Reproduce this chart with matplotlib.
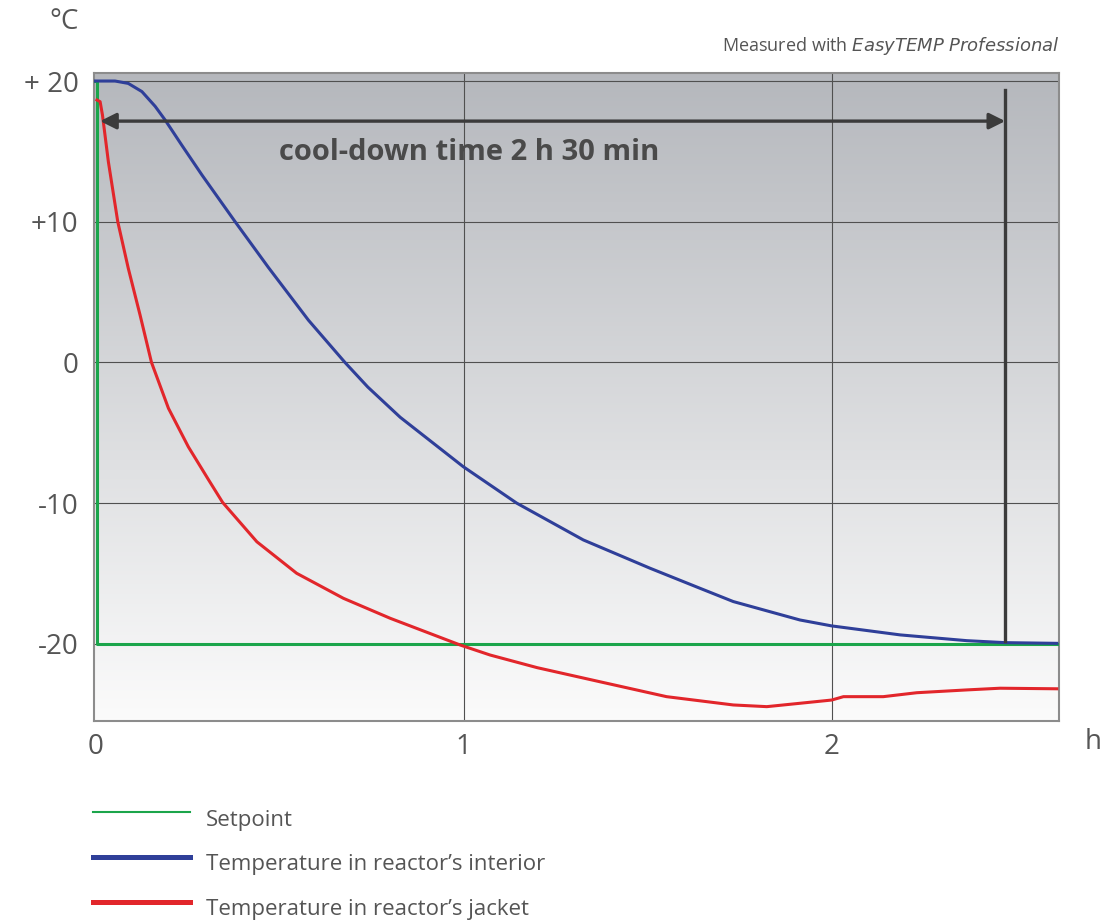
import numpy as np
import matplotlib
matplotlib.use("Agg")
import matplotlib.pyplot as plt
from matplotlib.lines import Line2D

plt.rcParams['font.family'] = ['Open Sans', 'DejaVu Sans']

# hours / degC
setpoint_x = [0.0, 0.006, 0.006, 2.616]
setpoint_y = [20.0, 20.0, -20.0, -20.0]

interior_x = [0.0, 0.054, 0.090, 0.127, 0.163, 0.190, 0.235, 0.290, 0.380, 0.470, 0.579,
              0.678, 0.740, 0.828, 0.999, 1.144, 1.325, 1.506, 1.642, 1.732, 1.913, 1.999,
              2.185, 2.366, 2.469, 2.610]
interior_y = [20.0, 20.0, 19.83, 19.25, 18.2, 17.23, 15.45, 13.32, 10.0, 6.76, 3.0,
              0.0, -1.75, -3.9, -7.41, -10.0, -12.62, -14.63, -16.06, -17.0, -18.31, -18.73,
              -19.37, -19.78, -19.92, -19.97]

jacket_x = [0.005, 0.0136, 0.020, 0.036, 0.0615, 0.090, 0.122, 0.153, 0.199, 0.253, 0.308, 0.346,
            0.439, 0.547, 0.674, 0.801, 0.991, 1.072, 1.2, 1.370, 1.551, 1.732, 1.823, 1.913, 1.999,
            2.031, 2.139, 2.230, 2.366, 2.456, 2.610]
jacket_y = [18.65, 18.53, 17.58, 14.26, 10.0, 6.69, 3.37, 0.0, -3.26, -6.0, -8.35, -9.95,
            -12.75, -14.99, -16.77, -18.19, -20.09, -20.8, -21.7, -22.7, -23.76, -24.35, -24.47, -24.23, -24.0,
            -23.76, -23.76, -23.48, -23.28, -23.16, -23.2]

y_ticks = [20, 10, 0, -10, -20]
y_labels = ["+ 20", "+10", "0", "-10", "-20"]
x_ticks = [0, 1, 2]
x_labels = ["0", "1", "2"]

cooldown_end = 2.47
arrow_level = 17.15

legend_labels = ["Setpoint", "Temperature in reactor\u2019s interior", "Temperature in reactor\u2019s jacket"]

GREEN = '#1ba54b'
BLUE = '#2f3f99'
RED = '#e2262b'
TXT = '#555555'


def main():
    W, H = 1103, 924
    fig = plt.figure(figsize=(W / 100, H / 100), dpi=100)
    ax = fig.add_axes([94 / W, 1 - 721 / H, (1059 - 94) / W, (721 - 73) / H])
    xlim = (-0.003, 2.616)
    ylim = (-25.49, 20.57)

    # background gradient, grey at top fading to white
    grad = np.linspace(0, 1, 256).reshape(-1, 1, 1)
    top = np.array([0.71, 0.72, 0.74])
    bot = np.array([0.985, 0.985, 0.985])
    img = top + (bot - top) * grad * np.ones((1, 1, 3))
    ax.imshow(img, extent=[xlim[0], xlim[1], ylim[0], ylim[1]], origin='upper',
              aspect='auto', zorder=0)
    ax.set_xlim(*xlim)
    ax.set_ylim(*ylim)

    for y in y_ticks:
        ax.axhline(y, color='#505050', lw=0.8, zorder=1)
    for x in x_ticks[1:]:
        ax.axvline(x, color='#505050', lw=0.8, zorder=1)

    ax.plot(setpoint_x, setpoint_y, color=GREEN, lw=2.2, zorder=3)
    ax.plot(jacket_x, jacket_y, color=RED, lw=2.2, zorder=4, solid_joinstyle='round')
    ax.plot(interior_x, interior_y, color=BLUE, lw=2.2, zorder=4, solid_joinstyle='round')

    # cool-down marker
    ax.annotate('', xy=(0.0136, arrow_level), xytext=(cooldown_end, arrow_level),
                arrowprops=dict(arrowstyle='<|-|>', lw=2.4, color='#3b3b3b',
                                mutation_scale=24, shrinkA=0, shrinkB=0), zorder=5)
    ax.plot([cooldown_end, cooldown_end], [19.36, -19.8], color='#3b3b3b', lw=2.4, zorder=5)
    ax.text(1.015, 14.95, "cool-down time 2 h 30 min", fontsize=21, fontweight='bold',
            color='#4a4a4a', ha='center', va='center', zorder=6)

    for s in ax.spines.values():
        s.set_color('#8c8c8c')
        s.set_linewidth(1.5)

    ax.set_yticks(y_ticks)
    ax.set_yticklabels(y_labels)
    ax.set_xticks(x_ticks)
    ax.set_xticklabels(x_labels)
    ax.tick_params(length=0, labelsize=20, labelcolor=TXT)
    ax.tick_params(axis='y', pad=11)
    ax.tick_params(axis='x', pad=9)

    fig.text(64 / W, 1 - 22 / H, "\u00b0C", fontsize=20, color=TXT, ha='center', va='center')
    fig.text(1093 / W, 1 - 742 / H, "h", fontsize=20, color=TXT, ha='center', va='center')

    fig.text(1060 / W, 1 - 46 / H, "Measured with $\\it{EasyTEMP\\ Professional}$",
             fontsize=13, color=TXT, ha='right', va='center')

    # legend
    rows = [(812, 826, GREEN, 1.5), (857, 870, BLUE, 3.6), (902, 915, RED, 3.6)]
    for (ly, ty, c, lw), lab in zip(rows, legend_labels):
        fig.add_artist(Line2D([93 / W, 190 / W], [1 - ly / H, 1 - ly / H], color=c, lw=lw))
        fig.text(206 / W, 1 - ty / H, lab, fontsize=16, color=TXT, ha='left', va='baseline')

    fig.savefig("out.png", dpi=100)


if __name__ == "__main__":
    main()
